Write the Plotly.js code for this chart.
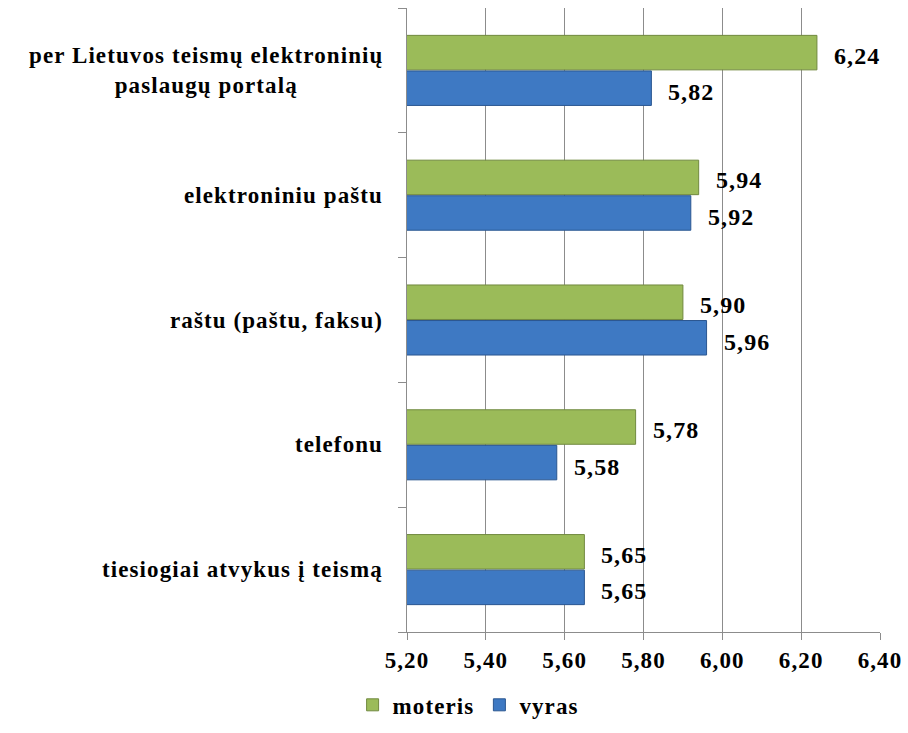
<!DOCTYPE html>
<html>
<head>
<meta charset="utf-8">
<script src="https://cdn.plot.ly/plotly-3.0.1.min.js"></script>
<style>
html,body{margin:0;padding:0;background:#fff;}
#chart{width:908px;height:733px;}
svg text{letter-spacing:1.1px;}
</style>
</head>
<body>
<div id="chart"></div>
<script>
// Categories top to bottom
var categories = [
  "per Lietuvos teismų elektroninių<br>paslaugų portalą",
  "elektroniniu paštu",
  "raštu (paštu, faksu)",
  "telefonu",
  "tiesiogiai atvykus į teismą"
];
var moteris = [6.24, 5.94, 5.90, 5.78, 5.65];
var vyras   = [5.82, 5.92, 5.96, 5.58, 5.65];
var xTicks = [5.2, 5.4, 5.6, 5.8, 6.0, 6.2, 6.4];
var seriesNames = ["moteris", "vyras"];

var FONT = "Liberation Serif";
var catIdx = categories.map(function(c, i){ return i; });

var traces = [
  {
    type: "bar", orientation: "h", name: "<b>" + seriesNames[0] + "</b>",
    y: catIdx, x: moteris,
    marker: {color: "#9bbb59", line: {color: "#71893f", width: 1}},
    hoverinfo: "none"
  },
  {
    type: "bar", orientation: "h", name: "<b>" + seriesNames[1] + "</b>",
    y: catIdx, x: vyras,
    marker: {color: "#3e79c3", line: {color: "#2a5690", width: 1}},
    hoverinfo: "none"
  }
];

function fmt(v){ return v.toFixed(2).replace(".", ","); }

var annotations = [];
var barHalf = 0.1425;
catIdx.forEach(function(i){
  annotations.push({
    xref: "x", yref: "y", x: moteris[i], y: i - barHalf,
    text: "<b>" + fmt(moteris[i]) + "</b>", showarrow: false, xanchor: "left", yanchor: "middle",
    xshift: 15, yshift: -3,
    font: {family: FONT, size: 24, color: "#000"}
  });
  annotations.push({
    xref: "x", yref: "y", x: vyras[i], y: i + barHalf,
    text: "<b>" + fmt(vyras[i]) + "</b>", showarrow: false, xanchor: "left", yanchor: "middle",
    xshift: 15, yshift: -4,
    font: {family: FONT, size: 24, color: "#000"}
  });
  annotations.push({
    xref: "paper", yref: "y", x: 0, y: i,
    text: "<b>" + categories[i].replace("<br>", "</b><br><b>") + "</b>", showarrow: false, xanchor: "right", yanchor: "middle",
    align: "center", xshift: -22,
    font: {family: FONT, size: 23, color: "#000"}
  });
});

var layout = {
  width: 908, height: 733,
  margin: {l: 407, r: 28, t: 8, b: 100},
  paper_bgcolor: "#fff", plot_bgcolor: "#fff",
  barmode: "group", bargap: 0.43, bargroupgap: 0.03,
  separators: ", ",
  font: {family: FONT, color: "#000"},
  xaxis: {
    range: [5.2, 6.4], tickvals: xTicks,
    ticktext: xTicks.map(function(v){ return "<b>" + v.toFixed(2).replace(".", ",") + "</b>"; }),
    showgrid: true, gridcolor: "#8c8c8c", gridwidth: 1,
    showline: true, linecolor: "#8c8c8c", linewidth: 1,
    ticks: "outside", ticklen: 7, tickcolor: "#8c8c8c",
    zeroline: false,
    tickfont: {family: FONT, size: 23, color: "#000"}
  },
  yaxis: {
    type: "linear", range: [4.5, -0.5],
    showgrid: false, zeroline: false,
    showline: true, linecolor: "#8c8c8c", linewidth: 1,
    tickvals: [-0.5, 0.5, 1.5, 2.5, 3.5, 4.5],
    ticks: "outside", ticklen: 8, tickcolor: "#8c8c8c",
    showticklabels: false
  },
  showlegend: true,
  legend: {
    orientation: "h", x: -0.115, xanchor: "left", y: -0.115, yanchor: "middle",
    font: {family: FONT, size: 23, color: "#000"},
    itemwidth: 30, tracegroupgap: 0
  },
  annotations: annotations
};

Plotly.newPlot("chart", traces, layout, {displayModeBar: false, staticPlot: true});
</script>
</body>
</html>
